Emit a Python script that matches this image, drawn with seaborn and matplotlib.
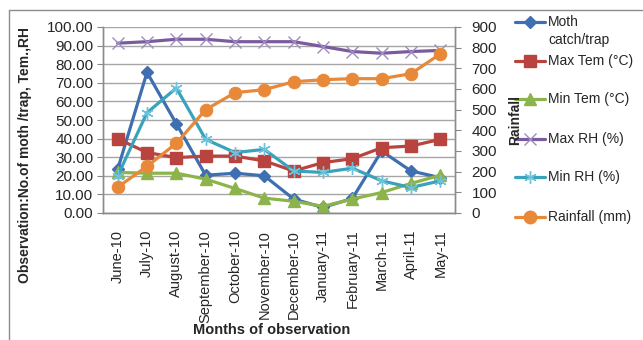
import pandas as pd
import numpy as np
import matplotlib
matplotlib.use('Agg')
import matplotlib.pyplot as plt
import seaborn as sns
from matplotlib.lines import Line2D

sns.set_style('white')
plt.rcParams['font.family'] = ['Liberation Sans', 'DejaVu Sans']

# Data
months = ['June-10', 'July-10', 'August-10', 'September-10', 'October-10', 'November-10',
          'December-10', 'January-11', 'February-11', 'March-11', 'April-11', 'May-11']
moth = [23.5, 75.6, 48.0, 20.3, 21.4, 20.0, 7.5, 3.0, 7.8, 33.3, 22.6, 19.0]
max_tem = [39.9, 32.5, 29.8, 30.6, 30.6, 28.0, 22.6, 27.1, 29.2, 35.1, 36.0, 39.6]
min_tem = [21.8, 21.4, 21.4, 18.2, 13.2, 8.0, 6.3, 3.6, 7.5, 11.0, 15.9, 20.3]
max_rh = [91.3, 92.1, 93.4, 93.4, 92.1, 92.1, 92.1, 89.5, 86.8, 85.9, 86.8, 87.4]
min_rh = [20.0, 53.9, 67.2, 39.6, 32.5, 34.2, 22.6, 21.8, 24.1, 17.3, 13.7, 17.3]
rainfall = [125, 226, 337, 500, 582, 597, 635, 645, 650, 650, 674, 770]

df = pd.DataFrame({'month': months, 'Moth catch/trap': moth, 'Max Tem (°C)': max_tem,
                   'Min Tem (°C)': min_tem, 'Max RH (%)': max_rh, 'Min RH (%)': min_rh,
                   'Rainfall (mm)': rainfall})
df['pos'] = np.arange(len(months))

left_series = [
    ('Moth catch/trap', '#3F6FB0', 'D', 6, '#3F6FB0'),
    ('Max Tem (°C)', '#B8433F', 's', 8, '#B8433F'),
    ('Min Tem (°C)', '#8DB44A', '^', 8, '#8DB44A'),
    ('Max RH (%)', '#7A5C9E', 'x', 8, '#A08BC0'),
    ('Min RH (%)', '#3BA2BC', (6, 2, 0), 9, '#6CC3DB'),
]
rain_col = '#E8893A'

fig = plt.figure(figsize=(6.43, 3.40), dpi=100)
ax = fig.add_axes([103 / 643, 1 - 213 / 340, (455 - 103) / 643, (213 - 27) / 340])
ax2 = ax.twinx()

for name, col, mk, ms, mcol in left_series:
    sns.lineplot(data=df, x='pos', y=name, ax=ax, color=col, linewidth=2.3,
                 marker=mk, markersize=ms, markerfacecolor=mcol, markeredgecolor=mcol,
                 markeredgewidth=1.0, legend=False)

sns.lineplot(data=df, x='pos', y='Rainfall (mm)', ax=ax2, color=rain_col, linewidth=2.3,
             marker='o', markersize=9, markeredgecolor=rain_col, legend=False)

ax.set_xlim(-0.5, len(months) - 0.5)
ax.set_ylim(0, 100)
ax.set_yticks(np.arange(0, 101, 10))
ax.set_yticklabels([f'{v:.2f}' for v in np.arange(0, 101, 10)])
ax.set_xticks(df['pos'])
ax.set_xticklabels(months, rotation=90)
ax.yaxis.grid(True, color='#A6A6A6', linewidth=1.0)
ax.set_axisbelow(True)
ax.set_xlabel('')
ax.set_ylabel('')
ax.tick_params(axis='y', labelsize=11, length=4, color='#888888', pad=3, direction='out', left=True)
ax.tick_params(axis='x', labelsize=10.5, length=0, pad=12)

ax2.set_ylim(0, 900)
ax2.set_yticks(np.arange(0, 901, 100))
ax2.set_ylabel('')
ax2.tick_params(axis='y', labelsize=11, length=4, color='#888888', pad=8, direction='out', right=True)

for a in (ax, ax2):
    a.spines['top'].set_visible(False)
    for side in ('left', 'right', 'bottom'):
        a.spines[side].set_color('#8C8C8C')
        a.spines[side].set_linewidth(1.0)

# legend drawn by hand to follow the reference's spacing
leg_y = [22, 61, 99, 139, 177, 217]
leg_items = [(s[0], s[1], s[2], s[3], s[4]) for s in left_series] + \
            [('Rainfall (mm)', rain_col, 'o', 9, rain_col)]
for yy, (name, col, mk, ms, mcol) in zip(leg_y, leg_items):
    fy = 1 - yy / 340
    fig.add_artist(Line2D([515 / 643, 545 / 643], [fy, fy], transform=fig.transFigure,
                          color=col, linewidth=2.3))
    fig.add_artist(Line2D([530 / 643], [fy], transform=fig.transFigure, color=col,
                          marker=mk, markersize=ms, markerfacecolor=mcol, markeredgecolor=mcol,
                          linestyle='none'))
    if name.startswith('Moth'):
        fig.text(548 / 643, fy, 'Moth', ha='left', va='center', fontsize=10)
        fig.text(548 / 643, 1 - 40 / 340, 'catch/trap', ha='left', va='center', fontsize=10)
    else:
        fig.text(548 / 643, fy, name, ha='left', va='center', fontsize=10)

fig.text(25 / 643, 1 - 155 / 340, 'Observation:No.of moth /trap, Tem.,RH', rotation=90,
         ha='center', va='center', fontsize=10, fontweight='bold')
fig.text(272 / 643, 1 - 330 / 340, 'Months of observation', ha='center', va='center',
         fontsize=10.5, fontweight='bold')
fig.text(515 / 643, 1 - 120 / 340, 'Rainfall', rotation=90, ha='center', va='center',
         fontsize=10, fontweight='bold')

# chart area border (only top and left visible in the crop)
fig.add_artist(Line2D([9 / 643, 9 / 643], [0, 1 - 10 / 340], transform=fig.transFigure,
                      color='#8C8C8C', linewidth=1.0))
fig.add_artist(Line2D([9 / 643, 1], [1 - 10 / 340, 1 - 10 / 340], transform=fig.transFigure,
                      color='#8C8C8C', linewidth=1.0))

plt.savefig('out.png', dpi=100)
